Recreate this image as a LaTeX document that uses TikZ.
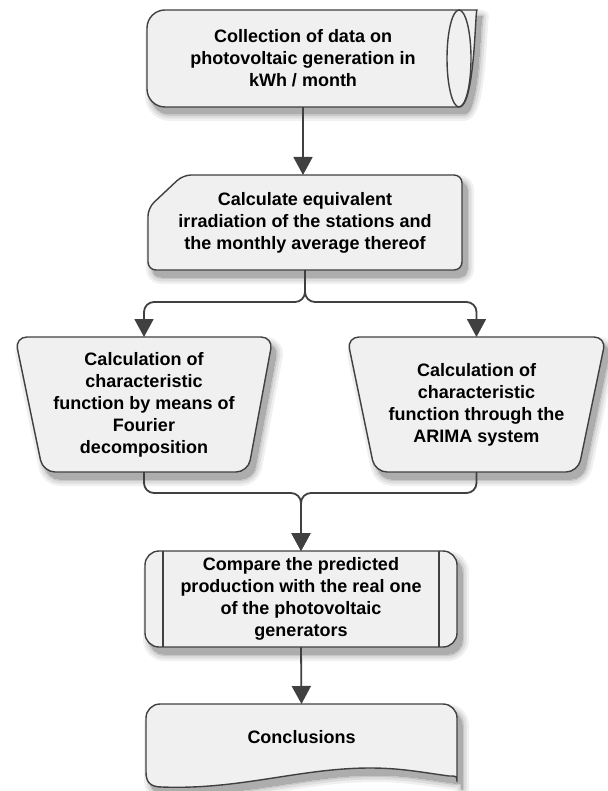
\documentclass[tikz,border=0pt]{standalone}
\usepackage{fontspec}
\setmainfont{Liberation Sans}
\usetikzlibrary{positioning,arrows.meta}

\definecolor{boxfill}{HTML}{F0F0F0}
\definecolor{boxline}{HTML}{404040}

\tikzset{
  txt/.style={font=\fontsize{18pt}{22pt}\selectfont\bfseries, align=center,
    inner sep=2pt, outer sep=0pt},
  outline/.style={draw=boxline, line width=1.4pt},
  box/.style={outline, fill=boxfill},
  haze/.style={fill=black!#1, draw=black!#1, line join=round},
  flow/.style={draw=boxline, line width=1.8pt,
    -{Triangle[width=19pt,length=18pt]}},
  branch/.style={flow, rounded corners=10pt},
  % outlines of the boxes, moved by {dx}{dy}
  cylpath/.style 2 args={insert path={[rounded corners=18pt] (303+#1,107+#2) -- (147+#1,107+#2)
    -- (147+#1,10+#2) -- (459+#1,10+#2) [sharp corners]
    .. controls +(16,0) and +(16,0) .. (459+#1,107+#2) -- cycle}},
  cardpath/.style 2 args={insert path={[rounded corners=8pt] (305+#1,270+#2) -- (148+#1,270+#2)
    -- (148+#1,208+#2) -- (183+#1,175+#2) -- (462+#1,175+#2) -- (462+#1,270+#2) -- cycle}},
  leftpath/.style 2 args={insert path={[rounded corners=12pt] (144+#1,472+#2) -- (43+#1,472+#2)
    -- (15+#1,337+#2) -- (273+#1,337+#2) -- (248+#1,472+#2) -- cycle}},
  rightpath/.style 2 args={insert path={[rounded corners=12pt] (476+#1,472+#2) -- (375+#1,472+#2)
    -- (347+#1,337+#2) -- (606+#1,337+#2) -- (578+#1,472+#2) -- cycle}},
  procpath/.style 2 args={insert path={[rounded corners=14pt] (301+#1,647+#2) -- (145+#1,647+#2)
    -- (145+#1,551+#2) -- (457+#1,551+#2) -- (457+#1,647+#2) -- cycle}},
  docpath/.style 2 args={insert path={[rounded corners=14pt] (146+#1,772+#2) -- (146+#1,704+#2)
    -- (457+#1,704+#2) -- (457+#1,768+#2) [sharp corners]
    .. controls (457+#1,776+#2) .. (449+#1,776+#2)
    .. controls (420+#1,772+#2) and (400+#1,768+#2) .. (370+#1,768+#2)
    .. controls (300+#1,768+#2) and (240+#1,790+#2) .. (162+#1,787+#2)
    .. controls (150+#1,787+#2) and (146+#1,782+#2) .. (146+#1,772+#2) -- cycle}},
}

% soft shadow, then the filled box
\newcommand\flowbox[1]{%
  \path[haze=6, line width=14pt, #1={5}{7}];
  \path[haze=13, line width=9pt, #1={5}{7}];
  \path[haze=22, line width=4pt, #1={5}{7}];
  \path[haze=32, line width=0pt, #1={5}{7}];
  \path[box, #1={0}{0}];}

\begin{document}
\begin{tikzpicture}[x=1pt,y=-1pt]
  \useasboundingbox (0,0) rectangle (607,791);

  % shapes first, text on top
  \flowbox{cylpath}
  \draw[outline] (459,58.5) ellipse [x radius=12, y radius=48.5];
  \flowbox{cardpath}
  \flowbox{leftpath}
  \flowbox{rightpath}
  \flowbox{procpath}
  \flowbox{docpath}

  % boxes
  \node[txt, minimum width=312pt, minimum height=97pt] (collect) at (303,58.5)
    {Collection of data on\\photovoltaic generation in\\kWh / month};
  \node[txt, minimum width=314pt, minimum height=95pt] (irrad) at (305,222.5)
    {Calculate equivalent\\irradiation of the stations and\\the monthly average thereof};
  \node[txt, minimum width=258pt, minimum height=135pt] (fourier) at (144,404.5)
    {Calculation of\\characteristic\\function by means of\\Fourier\\decomposition};
  \node[txt, minimum width=259pt, minimum height=135pt] (arima) at (476.5,404.5)
    {Calculation of\\characteristic\\function through the\\ARIMA system};
  \node[txt, minimum width=312pt, minimum height=96pt] (compare) at (301,599)
    {Compare the predicted\\production with the real one\\of the photovoltaic\\generators};
  \node[txt, minimum width=311pt, minimum height=66pt, anchor=north] (concl) at (301.5,704)
    {Conclusions};

  \draw[outline] ([xshift=18pt]compare.north west) -- ([xshift=18pt]compare.south west);
  \draw[outline] ([xshift=-18pt]compare.north east) -- ([xshift=-18pt]compare.south east);

  % connectors
  \draw[flow] (collect.south) -- (collect.south |- irrad.north);
  \draw[branch] (irrad.south) -- ++(0,32) -| (fourier.north);
  \draw[branch] (irrad.south) -- ++(0,32) -| (arima.north);
  \draw[branch] (fourier.south) -- ++(0,21) -| (compare.north);
  \draw[branch] (arima.south) -- ++(0,21) -| (compare.north);
  \draw[flow] (compare.south) -- (concl.north);
\end{tikzpicture}
\end{document}
